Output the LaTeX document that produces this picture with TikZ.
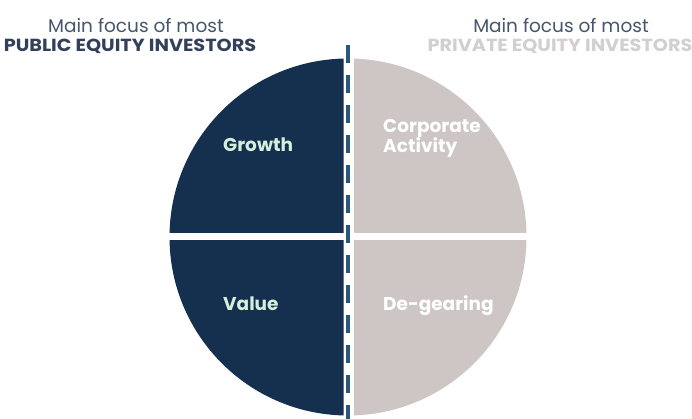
\documentclass[tikz,border=0pt]{standalone}
\usepackage{fontspec}
\setmainfont{Poppins}
\newfontfamily\widefont[FakeStretch=1.1]{Poppins}
\definecolor{navy}{HTML}{15304F}
\definecolor{stone}{HTML}{CDC6C4}
\definecolor{mint}{HTML}{D5EEDD}
\definecolor{dashblue}{HTML}{2B5878}
\definecolor{slate}{HTML}{46566C}
\definecolor{slatedark}{HTML}{34405A}
\definecolor{palegray}{HTML}{D3CFCE}
\tikzset{
  heading/.style={anchor=base, inner sep=0pt, font=\fontsize{18.5}{20}\selectfont},
  capsline/.style={anchor=base, inner sep=0pt, font=\widefont\fontsize{17.5}{20}\selectfont\bfseries},
  quadlabel/.style={anchor=base west, inner sep=0pt, align=left, font=\fontsize{18.5}{18}\selectfont\bfseries},
  divider/.style={draw=dashblue, line width=3.5pt, dash pattern=on 18pt off 12pt}
}
\begin{document}
\begin{tikzpicture}[x=1pt,y=-1pt]
\useasboundingbox (0,0) rectangle (692,419);
\fill[white] (0,0) rectangle (692,419);
% quadrants
\begin{scope}
  \clip (0,0) rectangle (343.5,233);
  \fill[navy] (348,237) circle (178.5);
\end{scope}
\begin{scope}
  \clip (0,241) rectangle (343.5,419);
  \fill[navy] (348,237) circle (178.5);
\end{scope}
\begin{scope}
  \clip (354,0) rectangle (692,233);
  \fill[stone] (348,237) circle (178.5);
\end{scope}
\begin{scope}
  \clip (354,241) rectangle (692,419);
  \fill[stone] (348,237) circle (178.5);
\end{scope}
% divider
\coordinate (divtop) at (348,45);
\coordinate (divbot) at (348,420);
\draw[divider] (divtop) -- (divbot);
% headings
\node[heading, text=slate] (lh1) at (136,33) {Main focus of most};
\node[capsline, text=slatedark] (lh2) at (130,52) {PUBLIC EQUITY INVESTORS};
\node[heading, text=slate] (rh1) at (561,33) {Main focus of most};
\node[capsline, text=palegray] (rh2) at (560,52) {PRIVATE EQUITY INVESTORS};
% labels
\node[quadlabel, text=mint] (growth) at (223,152) {Growth};
\node[quadlabel, text=mint] (value) at (223,310) {Value};
\node[quadlabel, text=white] (corp) at (383,153) {Corporate\\[0pt]Activity};
\node[quadlabel, text=white] (degear) at (383,310) {De-gearing};
\end{tikzpicture}
\end{document}
